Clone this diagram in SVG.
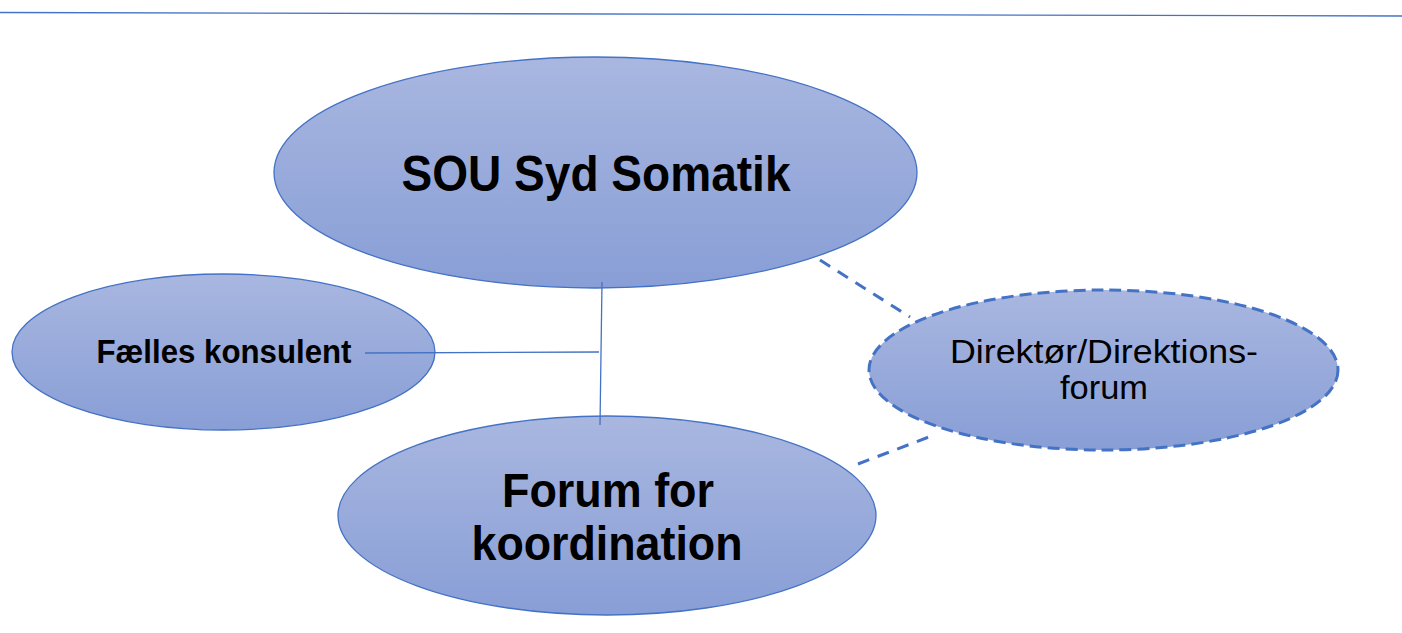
<svg xmlns="http://www.w3.org/2000/svg" width="1402" height="633" viewBox="0 0 1402 633">
<defs>
<linearGradient id="g" x1="0" y1="0" x2="0" y2="1">
<stop offset="0" stop-color="#A9B7E0"/>
<stop offset="1" stop-color="#889ED6"/>
</linearGradient>
<style>
.node{fill:url(#g);stroke:#4472C4;stroke-width:1.3}
.dashed{stroke-width:3;stroke-dasharray:12 6}
.t{font-family:"Liberation Sans",Arial,sans-serif;fill:#000;text-anchor:middle}
.b{font-weight:bold}
.c{stroke:#4472C4;fill:none;stroke-width:1.3}
.d{stroke:#4472C4;fill:none;stroke-width:3;stroke-dasharray:12 9}
</style>
</defs>
<rect width="1402" height="633" fill="#fff"/>
<line x1="0" y1="12.5" x2="1402" y2="16" stroke="#4472C4" stroke-width="1.3"/>
<g id="n-sou">
<ellipse class="node" cx="595.5" cy="172.5" rx="321.5" ry="115.5"/>
<text class="t b" x="596" y="191" font-size="50" textLength="389" lengthAdjust="spacingAndGlyphs">SOU Syd Somatik</text>
</g>
<g id="n-faelles">
<ellipse class="node" cx="223.5" cy="352" rx="211.5" ry="78"/>
<text class="t b" x="224" y="363" font-size="33" textLength="255" lengthAdjust="spacingAndGlyphs">Fælles konsulent</text>
</g>
<g id="n-forum">
<ellipse class="node" cx="607" cy="515.5" rx="269" ry="99.5"/>
<text class="t b" x="608" y="507" font-size="48" textLength="212" lengthAdjust="spacingAndGlyphs">Forum for</text>
<text class="t b" x="607" y="560" font-size="48" textLength="271" lengthAdjust="spacingAndGlyphs">koordination</text>
</g>
<g id="connectors">
<line class="c" x1="602" y1="282" x2="600" y2="425"/>
<line class="c" x1="365" y1="353" x2="599" y2="352"/>
<line class="d" x1="820" y1="260" x2="910" y2="317"/>
<line class="d" x1="858" y1="464" x2="934" y2="435"/>
</g>
<g id="n-direktor">
<ellipse class="node dashed" cx="1103.5" cy="370" rx="234.5" ry="80"/>
<text class="t" x="1104" y="363" font-size="33" textLength="308" lengthAdjust="spacingAndGlyphs">Direktør/Direktions-</text>
<text class="t" x="1104" y="399" font-size="33" textLength="88" lengthAdjust="spacingAndGlyphs">forum</text>
</g>
</svg>
